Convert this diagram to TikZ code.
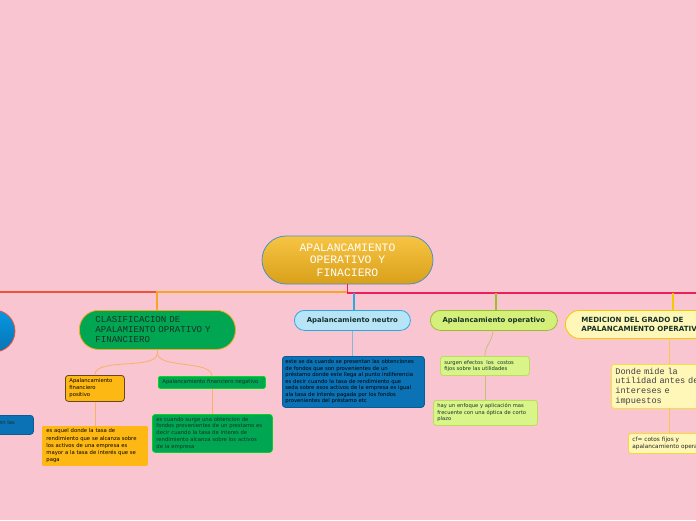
\documentclass[tikz,border=0pt]{standalone}
\usepackage{fontspec}
\setmainfont{Liberation Sans}
\newfontfamily\monof{Liberation Mono}
\newfontfamily\dvs{DejaVu Sans}
\definecolor{bg}{HTML}{F9C5D0}
\definecolor{rtop}{HTML}{F7C443}
\definecolor{rbot}{HTML}{D9A01A}
\definecolor{rbrd}{HTML}{4A90C8}
\definecolor{grn}{HTML}{00A651}
\definecolor{gold}{HTML}{FDB813}
\definecolor{blu}{HTML}{0B72B5}
\definecolor{blubrd}{HTML}{0A5C94}
\definecolor{ltblu}{HTML}{B7E4F7}
\definecolor{lime}{HTML}{D4F07A}
\definecolor{limesub}{HTML}{D9F58A}
\definecolor{ylw}{HTML}{FFF7B8}
\definecolor{lorange}{HTML}{F5A623}
\definecolor{lredl}{HTML}{E9543A}
\definecolor{lredr}{HTML}{EE1E5B}
\definecolor{lblue}{HTML}{29A9E0}
\definecolor{lgreen}{HTML}{9BBE2E}
\definecolor{lyel}{HTML}{F5C800}
\definecolor{dark}{HTML}{15322A}
\tikzset{
  box/.style={rounded corners=3pt, line width=0.8pt, anchor=north west, align=left, inner xsep=4pt, inner ysep=0pt},
  small/.style={font=\dvs\fontsize{5.3}{7}\selectfont},
  tiny/.style={font=\dvs\fontsize{5.2}{6.5}\selectfont},
  hdr/.style={font=\dvs\bfseries\fontsize{6.9}{8.5}\selectfont, text=dark},
  conn/.style={line width=1.1pt},
  sub/.style={line width=0.8pt},
}
\begin{document}
\begin{tikzpicture}[x=1pt,y=-1pt]
\fill[bg] (0,0) rectangle (696,520);
\useasboundingbox (0,0) rectangle (696,520);
\clip (0,0) rectangle (696,520);

% root
\node[box, anchor=center, rounded corners=24pt, top color=rtop, bottom color=rbot, draw=rbrd,
  minimum width=171pt, minimum height=48pt, align=center, text=white,
  font=\monof\fontsize{11.4}{12.5}\selectfont] (root) at (347.5,260) {APALANCAMIENTO\\OPERATIVO Y\\FINACIERO};

% left partial circle
\node[circle, draw=lredl, line width=0.8pt, top color=blue!30!cyan!60!blu, bottom color=blu, minimum size=42pt, inner sep=0pt] (lc) at (-6,331) {};

% CLASIFICACION
\node[box, rounded corners=19pt, fill=grn, draw=lorange, minimum width=156pt, minimum height=39pt,
  text width=156pt, inner xsep=0pt, font=\monof\fontsize{9.1}{10}\selectfont, text=dark] (clas) at (79,310)
  {\hspace*{16pt}\parbox[t]{138pt}{CLASIFICACION DE\\APALAMIENTO OPRATIVO Y\\FINANCIERO}};

\node[box, fill=gold, draw=black!45!brown, minimum width=59pt, minimum height=26pt, text width=51pt, small] (pos) at (65,375)
  {Apalancamiento\\financiero\\positivo};
\node[box, rounded corners=2pt, fill=grn, draw=green!60!grn, minimum width=107pt, minimum height=12pt, text width=99pt, small, text=dark] (neg) at (158,376)
  {Apalancamiento financiero negativo};
\node[box, rounded corners=1pt, fill=gold, draw=gold, minimum width=105pt, minimum height=39pt, text width=97pt, font=\dvs\fontsize{5.3}{7.2}\selectfont] (posb) at (42,426)
  {es aquel donde la tasa de\\rendimiento que se alcanza sobre\\los activos de una empresa es\\mayor a la tasa de interés que se\\paga};
\node[box, fill=grn, draw=green!50!grn, minimum width=120pt, minimum height=38pt, text width=112pt, font=\dvs\fontsize{5.3}{6.9}\selectfont, text=dark] (negb) at (152,414)
  {es cuando surge una obtencion de\\fondos provenientes de un prestamo es\\decir cuando la tasa de interes de\\rendimiento alcanza sobre los activos\\de la empresa};

% partial blue box at left
\node[box, fill=blu, draw=blubrd, minimum width=93pt, minimum height=19pt] (lb) at (-60,415) {};
\node[anchor=west, inner sep=0pt, small, text=dark] (lbt) at (-1,423) {en las};

% neutro
\node[box, rounded corners=10pt, fill=ltblu, draw=lblue, minimum width=116pt, minimum height=20pt, align=center, hdr, text=dark] (neu) at (294,310)
  {\makebox[108pt]{Apalancamiento neutro}};
\node[box, fill=blu, draw=blubrd, minimum width=142pt, minimum height=51pt, text width=136pt, inner xsep=3pt, font=\dvs\fontsize{5.3}{6.5}\selectfont, text=black] (neub) at (282,356)
  {este se da cuando se presentan las obtenciones\\de fondos que son provenientes de un\\préstamo donde este llega al punto indiferencia\\es decir cuando la tasa de rendimiento que\\seda sobre esos activos de la empresa es igual\\ala tasa de interés pagada por los fondos\\provenientes del préstamo etc};

% operativo
\node[box, rounded corners=10pt, fill=lime, draw=lgreen, minimum width=127pt, minimum height=20pt, align=center, hdr] (oper) at (430,310)
  {\makebox[119pt]{Apalancamiento operativo}};
\node[box, fill=limesub, draw=lime!60!lgreen, minimum width=89pt, minimum height=19pt, text width=81pt, tiny, text=dark] (op1) at (440,356)
  {surgen efectos\ \ los\ \ costos\\fijos sobre las utilidades};
\node[box, fill=limesub, draw=lime!60!lgreen, minimum width=104pt, minimum height=25pt, text width=96pt, tiny, text=dark] (op2) at (433,400)
  {hay un enfoque y aplicación mas\\frecuente con una óptica de corto\\plazo};

% medicion
\node[box, rounded corners=14pt, fill=ylw, draw=lyel, minimum width=200pt, minimum height=28pt, text width=200pt, inner xsep=0pt,
  font=\dvs\bfseries\fontsize{7.1}{8.4}\selectfont, text=dark] (med) at (565,310)
  {\hspace*{16pt}\parbox[t]{180pt}{MEDICION DEL GRADO DE\\APALANCAMIENTO OPERATIVO}};
\node[box, fill=ylw, draw=lyel!60!ylw, minimum width=110pt, minimum height=44pt, text width=102pt,
  font=\monof\fontsize{8.6}{9.6}\selectfont, text=black!75] (med1) at (611,364)
  {Donde mide la\\utilidad antes de\\intereses e\\impuestos};
\node[box, fill=ylw, draw=lyel!70!ylw, minimum width=100pt, minimum height=20pt, text width=92pt, font=\dvs\fontsize{5.8}{7.5}\selectfont, text=black!85] (med2) at (628,433)
  {cf= cotos fijos y\\apalancamiento operativo};

% junctions
\coordinate (jL) at (157,292);
\coordinate (jLL) at (-6,292);
\coordinate (jR) at (720,293);
\coordinate (jN) at (354,293);
\coordinate (jO) at (496,293);
\coordinate (jM) at (673,293);

% main connectors
\draw[conn, lredl] (root.south) |- (jLL) -- (lc.north);
\draw[conn, lorange] (root.south) |- (jL) -- (jL |- clas.north);
\draw[conn, lredr] (root.south) |- (jR);
\draw[conn, lblue] (jN) -- (jN |- neu.north);
\draw[conn, lgreen] (jO) -- (jO |- oper.north);
\draw[conn, lyel] (jM) -- (jM |- med.north);

% sub connectors
\draw[sub, color=lorange!60!bg] (clas.south) -- ++(0,3) to[out=270,in=90,looseness=0.7] (pos.north);
\draw[sub, color=lorange!60!bg] (clas.south) -- ++(0,3) to[out=270,in=90,looseness=0.7] (neg.north);
\draw[sub, color=lorange!60!bg] (pos.south) -- (pos.south |- posb.north);
\draw[sub, color=lorange!60!bg] (neg.south) -- (neg.south |- negb.north);
\draw[sub, color=lblue!55!bg] (neu.south) -- (neu.south |- neub.north);
\coordinate (opj) at (493,330);
\draw[sub, color=lgreen!55!bg] (opj) to[out=270,in=90] (op1.north);
\draw[sub, color=lgreen!55!bg] (op1.south) -- (op1.south |- op2.north);
\coordinate (mj1) at (669,338);
\coordinate (mj2) at (669,408);
\draw[sub, color=lyel!60!bg] (mj1) -- (mj1 |- med1.north);
\draw[sub, color=lyel!60!bg] (mj2) -- (mj2 |- med2.north);
\end{tikzpicture}
\end{document}
